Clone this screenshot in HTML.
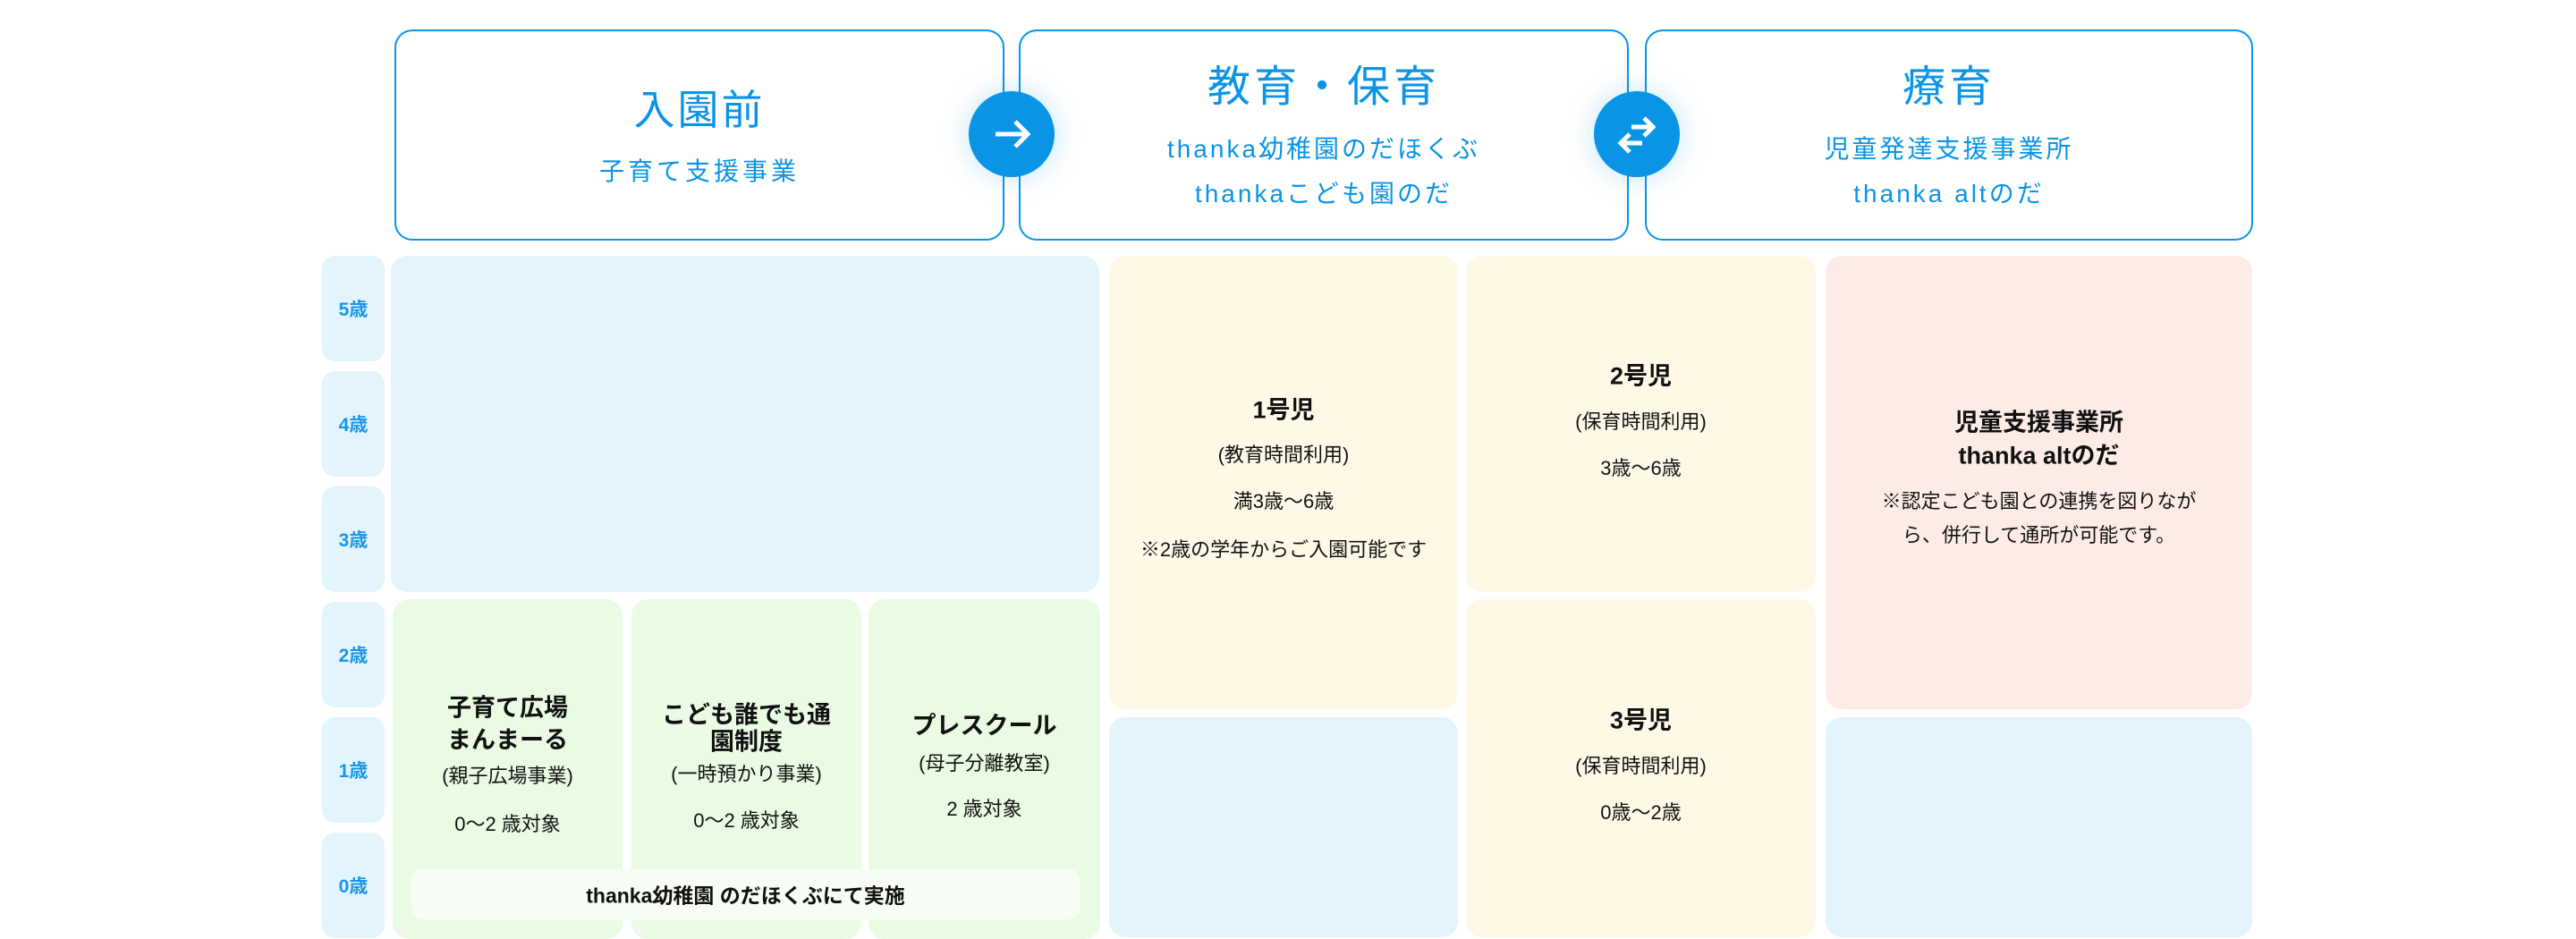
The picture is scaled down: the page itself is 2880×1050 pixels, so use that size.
<!DOCTYPE html>
<html><head><meta charset="utf-8"><style>
body{margin:0;background:#fff;}
#p{position:relative;width:2880px;height:1050px;overflow:hidden;font-family:"Liberation Sans","Noto Sans CJK JP",sans-serif;}
.b{position:absolute;border-radius:18px;}
.h{position:absolute;border:2px solid #0a94e6;border-radius:20px;box-sizing:border-box;background:#fff;}
.t{position:absolute;text-align:center;line-height:1;transform:translateY(-50%);white-space:nowrap;}
.bl{color:#0a94e6;}
.k{color:#111;}
.a{position:absolute;left:360px;width:70px;height:118px;background:#e3f4fd;border-radius:14px;color:#1a96e8;font-size:21px;font-weight:bold;display:flex;align-items:center;justify-content:center;}
.c{position:absolute;width:96px;height:96px;border-radius:50%;background:#0a94e6;box-shadow:0 0 30px rgba(10,148,230,0.25);}
</style></head><body><div id="p">

<div class="h" style="left:441px;top:33px;width:682px;height:236px;"></div>
<div class="h" style="left:1139px;top:33px;width:682px;height:236px;"></div>
<div class="h" style="left:1839px;top:33px;width:680px;height:236px;"></div>

<div class="t bl" style="left:441px;width:682px;top:123px;font-size:46px;letter-spacing:3px;">入園前</div>
<div class="t bl" style="left:441px;width:682px;top:192px;font-size:28px;letter-spacing:4px;">子育て支援事業</div>
<div class="t bl" style="left:1139px;width:682px;top:98px;font-size:48px;letter-spacing:4px;">教育・保育</div>
<div class="t bl" style="left:1139px;width:682px;top:167px;font-size:28px;letter-spacing:3px;">thanka幼稚園のだほくぶ</div>
<div class="t bl" style="left:1139px;width:682px;top:217px;font-size:28px;letter-spacing:3px;">thankaこども園のだ</div>
<div class="t bl" style="left:1839px;width:680px;top:98px;font-size:48px;letter-spacing:4px;">療育</div>
<div class="t bl" style="left:1839px;width:680px;top:167px;font-size:28px;letter-spacing:3px;">児童発達支援事業所</div>
<div class="t bl" style="left:1839px;width:680px;top:217px;font-size:28px;letter-spacing:3px;">thanka altのだ</div>

<div class="c" style="left:1083px;top:102px;"><svg width="96" height="96" viewBox="0 0 96 96"><path d="M30 48H64M52 34L66 48L52 62" stroke="#fff" stroke-width="5" fill="none"/></svg></div>
<div class="c" style="left:1782px;top:102px;"><svg width="96" height="96" viewBox="0 0 96 96"><path d="M42 40H66M56 30L66 40L56 50M54 58H30M40 48L30 58L40 68" stroke="#fff" stroke-width="5" fill="none"/></svg></div>

<div class="a" style="top:286px;">5歳</div>
<div class="a" style="top:415px;">4歳</div>
<div class="a" style="top:544px;">3歳</div>
<div class="a" style="top:673px;">2歳</div>
<div class="a" style="top:802px;">1歳</div>
<div class="a" style="top:931px;">0歳</div>

<div class="b" style="left:437px;top:286px;width:792px;height:376px;background:#e3f4fd;"></div>
<div class="b" style="left:439px;top:670px;width:257px;height:380px;background:#e9fce3;"></div>
<div class="b" style="left:706px;top:670px;width:257px;height:380px;background:#e9fce3;"></div>
<div class="b" style="left:971px;top:670px;width:259px;height:380px;background:#e9fce3;"></div>
<div class="b" style="left:460px;top:972px;width:747px;height:56px;background:#f7fdf4;border-radius:12px;"></div>

<div class="b" style="left:1240px;top:286px;width:390px;height:507px;background:#fef9e7;"></div>
<div class="b" style="left:1240px;top:802px;width:390px;height:246px;background:#e3f4fd;"></div>
<div class="b" style="left:1639px;top:286px;width:391px;height:376px;background:#fef9e7;"></div>
<div class="b" style="left:1639px;top:670px;width:391px;height:378px;background:#fef9e7;"></div>
<div class="b" style="left:2041px;top:286px;width:477px;height:507px;background:#fdece6;"></div>
<div class="b" style="left:2041px;top:802px;width:477px;height:246px;background:#e3f4fd;"></div>

<div class="t k" style="left:439px;width:257px;top:792px;font-size:27px;font-weight:bold;">子育て広場</div>
<div class="t k" style="left:439px;width:257px;top:828px;font-size:27px;font-weight:bold;">まんまーる</div>
<div class="t k" style="left:439px;width:257px;top:868px;font-size:22px;">(親子広場事業)</div>
<div class="t k" style="left:439px;width:257px;top:922px;font-size:22px;">0〜2 歳対象</div>

<div class="t k" style="left:706px;width:257px;top:800px;font-size:27px;font-weight:bold;">こども誰でも通</div>
<div class="t k" style="left:706px;width:257px;top:830px;font-size:27px;font-weight:bold;">園制度</div>
<div class="t k" style="left:706px;width:257px;top:866px;font-size:22px;">(一時預かり事業)</div>
<div class="t k" style="left:706px;width:257px;top:918px;font-size:22px;">0〜2 歳対象</div>

<div class="t k" style="left:971px;width:259px;top:812px;font-size:27px;font-weight:bold;">プレスクール</div>
<div class="t k" style="left:971px;width:259px;top:854px;font-size:22px;">(母子分離教室)</div>
<div class="t k" style="left:971px;width:259px;top:905px;font-size:22px;">2 歳対象</div>

<div class="t k" style="left:460px;width:747px;top:1002px;font-size:23px;font-weight:bold;">thanka幼稚園 のだほくぶにて実施</div>

<div class="t k" style="left:1240px;width:390px;top:459px;font-size:27px;font-weight:bold;">1号児</div>
<div class="t k" style="left:1240px;width:390px;top:509px;font-size:22px;">(教育時間利用)</div>
<div class="t k" style="left:1240px;width:390px;top:561px;font-size:22px;">満3歳〜6歳</div>
<div class="t k" style="left:1240px;width:390px;top:615px;font-size:22px;">※2歳の学年からご入園可能です</div>

<div class="t k" style="left:1639px;width:391px;top:421px;font-size:27px;font-weight:bold;">2号児</div>
<div class="t k" style="left:1639px;width:391px;top:472px;font-size:22px;">(保育時間利用)</div>
<div class="t k" style="left:1639px;width:391px;top:524px;font-size:22px;">3歳〜6歳</div>

<div class="t k" style="left:1639px;width:391px;top:806px;font-size:27px;font-weight:bold;">3号児</div>
<div class="t k" style="left:1639px;width:391px;top:857px;font-size:22px;">(保育時間利用)</div>
<div class="t k" style="left:1639px;width:391px;top:909px;font-size:22px;">0歳〜2歳</div>

<div class="t k" style="left:2041px;width:477px;top:473px;font-size:27px;font-weight:bold;">児童支援事業所</div>
<div class="t k" style="left:2041px;width:477px;top:510px;font-size:27px;font-weight:bold;">thanka altのだ</div>
<div class="t k" style="left:2041px;width:477px;top:561px;font-size:22px;">※認定こども園との連携を図りなが</div>
<div class="t k" style="left:2041px;width:477px;top:599px;font-size:22px;">ら、併行して通所が可能です。</div>

</div></body></html>
